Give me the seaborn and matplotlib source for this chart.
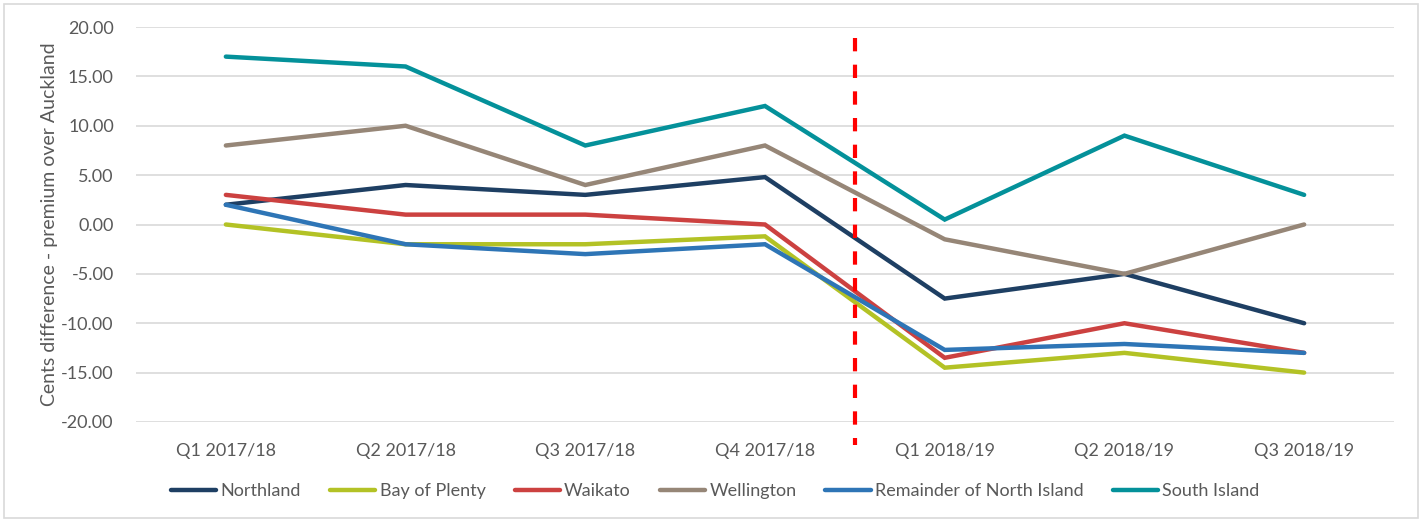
import matplotlib
matplotlib.use("Agg")
import matplotlib.pyplot as plt
import seaborn as sns
import pandas as pd
from matplotlib.patches import Rectangle

quarters = ["Q1 2017/18", "Q2 2017/18", "Q3 2017/18", "Q4 2017/18",
            "Q1 2018/19", "Q2 2018/19", "Q3 2018/19"]
northland = [2.0, 4.0, 3.0, 4.8, -7.5, -5.0, -10.0]
bay_of_plenty = [0.0, -2.0, -2.0, -1.2, -14.5, -13.0, -15.0]
waikato = [3.0, 1.0, 1.0, 0.0, -13.5, -10.0, -13.0]
wellington = [8.0, 10.0, 4.0, 8.0, -1.5, -5.0, 0.0]
remainder_ni = [2.0, -2.0, -3.0, -2.0, -12.7, -12.1, -13.0]
south_island = [17.0, 16.0, 8.0, 12.0, 0.5, 9.0, 3.0]
series_names = ["Northland", "Bay of Plenty", "Waikato", "Wellington",
                "Remainder of North Island", "South Island"]
yticks = [20, 15, 10, 5, 0, -5, -10, -15, -20]

colors = ["#1E3F63", "#B3C225", "#CC4140", "#968677", "#2E75B6", "#04919A"]

rows = []
for name, vals in zip(series_names, [northland, bay_of_plenty, waikato,
                                      wellington, remainder_ni, south_island]):
    for i, (q, v) in enumerate(zip(quarters, vals)):
        rows.append({"idx": i, "Quarter": q, "Value": v, "Region": name})
df = pd.DataFrame(rows)

sns.set_theme(style="white")
plt.rcParams["font.family"] = ["Lato", "DejaVu Sans"]
txt = "#595959"
fs = 13

fig = plt.figure(figsize=(14.25, 5.21), dpi=100)
ax = fig.add_axes([136 / 1425, 1 - 422 / 521, (1394 - 136) / 1425, (422 - 27) / 521])

sns.lineplot(data=df, x="idx", y="Value", hue="Region", hue_order=series_names,
             palette=colors, linewidth=3.2, sort=False, ax=ax,
             solid_capstyle="round", solid_joinstyle="miter")

ax.set_xlim(-0.5, 6.5)
ax.set_ylim(-20, 20)
ax.set_yticks(yticks)
ax.set_yticklabels([f"{t:.2f}" for t in yticks], color=txt, fontsize=fs)
ax.set_xticks(range(len(quarters)))
ax.set_xticklabels(quarters, color=txt, fontsize=fs)
ax.tick_params(axis="y", length=0, pad=16)
ax.tick_params(axis="x", length=0, pad=15)
ax.grid(axis="y", color="#D9D9D9", linewidth=1.2)
ax.set_axisbelow(True)
for s in ax.spines.values():
    s.set_visible(False)
ax.set_xlabel("")
ax.set_ylabel("Cents difference - premium over Auckland", color=txt,
              fontsize=14, labelpad=2)

ax.plot([3.5, 3.5], [18.9, -22.3], color="#FF0000", linewidth=3,
        linestyle=(0, (3.2, 3.2)), clip_on=False, zorder=5)

ax.legend_.remove()
handles = [plt.Line2D([0], [0], color=c, linewidth=3.2, solid_capstyle="round")
           for c in colors]
fig.legend(handles, series_names, loc="center", bbox_to_anchor=(0.502, 1 - 491 / 521),
           ncol=6, frameon=False, fontsize=fs, handlelength=2.5,
           handletextpad=0.25, columnspacing=1.6, labelcolor=txt)

fig.patches.append(Rectangle((4 / 1425, 3 / 521), 1414 / 1425, 514 / 521,
                             transform=fig.transFigure, fill=False,
                             edgecolor="#D9D9D9", linewidth=1.2))

fig.savefig("out.png", dpi=100, facecolor="white")
